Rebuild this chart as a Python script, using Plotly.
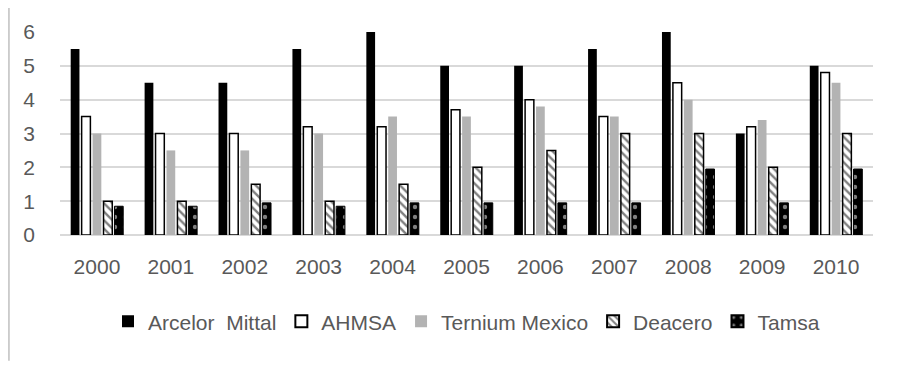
import plotly.graph_objects as go

years = ["2000", "2001", "2002", "2003", "2004", "2005", "2006", "2007", "2008", "2009", "2010"]
arcelor = [5.5, 4.5, 4.5, 5.5, 6.0, 5.0, 5.0, 5.5, 6.0, 3.0, 5.0]
ahmsa = [3.5, 3.0, 3.0, 3.2, 3.2, 3.7, 4.0, 3.5, 4.5, 3.2, 4.8]
ternium = [3.0, 2.5, 2.5, 3.0, 3.5, 3.5, 3.8, 3.5, 4.0, 3.4, 4.5]
deacero = [1.0, 1.0, 1.5, 1.0, 1.5, 2.0, 2.5, 3.0, 3.0, 2.0, 3.0]
tamsa = [0.85, 0.85, 0.95, 0.85, 0.95, 0.95, 0.95, 0.95, 1.95, 0.95, 1.95]

FONT = "Liberation Sans, Arial, sans-serif"
GRAY = "#595959"

fig = go.Figure()
fig.add_trace(go.Bar(name="Arcelor  Mittal", x=years, y=arcelor,
                     marker=dict(color="black", line=dict(width=0))))
fig.add_trace(go.Bar(name="AHMSA", x=years, y=ahmsa,
                     marker=dict(color="white", line=dict(color="black", width=1.5))))
fig.add_trace(go.Bar(name="Ternium Mexico", x=years, y=ternium,
                     marker=dict(color="#b3b3b3", line=dict(width=0))))
fig.add_trace(go.Bar(name="Deacero", x=years, y=deacero,
                     marker=dict(color="white", line=dict(color="black", width=1.5),
                                 pattern=dict(shape="\\", fgcolor="black", bgcolor="white",
                                              size=6, solidity=0.4))))
fig.add_trace(go.Bar(name="Tamsa", x=years, y=tamsa,
                     marker=dict(color="black", line=dict(color="black", width=1),
                                 pattern=dict(shape=".", fgcolor="white", bgcolor="black",
                                              size=10, solidity=0.15))))

# page has an 8px body margin: figure is placed at (8, 8)
fig.update_layout(
    width=895, height=358,
    margin=dict(l=52, r=30, t=21, b=131),
    paper_bgcolor="white", plot_bgcolor="white",
    barmode="group", bargap=0.26, bargroupgap=0.2,
    font=dict(family=FONT, color=GRAY),
    showlegend=True,
    legend=dict(orientation="h", x=0.5, xanchor="center", y=-0.427, yanchor="middle",
                font=dict(family=FONT, size=21, color=GRAY),
                itemsizing="constant", traceorder="normal"),
    xaxis=dict(showgrid=False, showline=False, ticks="", ticklabelstandoff=17,
               tickfont=dict(family=FONT, size=21, color=GRAY)),
    yaxis=dict(range=[0, 6.0], dtick=1, showgrid=True, gridcolor="#d9d9d9", gridwidth=1.5,
               zeroline=True, zerolinecolor="#d9d9d9", zerolinewidth=1.5,
               showline=False, ticks="", ticklabelstandoff=24,
               tickfont=dict(family=FONT, size=21, color=GRAY)),
    shapes=[
        dict(type="line", xref="paper", yref="paper", x0=-0.0628, x1=1.05, y0=1.124, y1=1.124,
             line=dict(color="#bfbfbf", width=1.5)),
        dict(type="line", xref="paper", yref="paper", x0=-0.0628, x1=-0.0628, y0=1.124, y1=-0.62,
             line=dict(color="#bfbfbf", width=1.5)),
    ],
)

fig.write_html("out.html")
